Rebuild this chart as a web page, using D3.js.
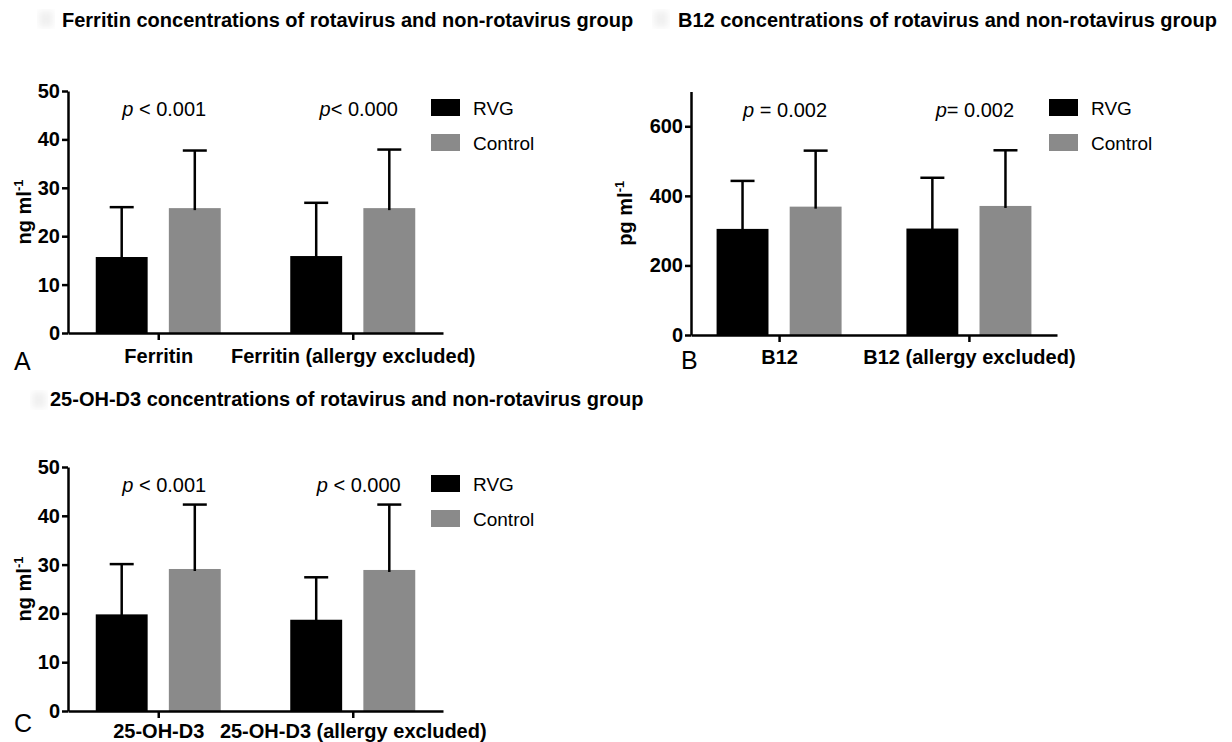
<!DOCTYPE html>
<html lang="en">
<head>
<meta charset="UTF-8">
<title>Ferritin, B12 and 25-OH-D3 concentrations</title>
<style>
  body { margin: 0; background: #fff; }
  svg { display: block; font-family: "Liberation Sans", Arial, sans-serif; }
  .axis path, .axis line { stroke: #000; stroke-width: 2.5; }
  .axis text { font-size: 20px; font-weight: bold; fill: #000; font-family: "Liberation Sans", Arial, sans-serif; }
  .xaxis text { font-size: 20px; }
  .title { font-size: 20px; font-weight: bold; }
  .letter { font-size: 25px; }
  .pval { font-size: 20px; }
  .legend text { font-size: 19px; }
  .ylab { font-size: 20px; font-weight: bold; }
  .err { stroke: #000; stroke-width: 2.5; }
</style>
</head>
<body>
<div id="chart"></div>
<script src="https://d3js.org/d3.v7.min.js"></script>
<script>
// data
const groups = ["RVG", "Control"];
const groupColors = ["#000000", "#8a8a8a"];

const ferritinCats = ["Ferritin", "Ferritin (allergy excluded)"];
const ferritinRVG = [15.7, 15.9];
const ferritinRVGSd = [10.3, 11.0];
const ferritinControl = [25.8, 25.8];
const ferritinControlSd = [11.9, 12.1];
const ferritinP = [" < 0.001", "< 0.000"];
const ferritinTicks = [0, 10, 20, 30, 40, 50];

const b12Cats = ["B12", "B12 (allergy excluded)"];
const b12RVG = [305, 306];
const b12RVGSd = [138, 146];
const b12Control = [369, 371];
const b12ControlSd = [161, 160];
const b12P = [" = 0.002", "= 0.002"];
const b12Ticks = [0, 200, 400, 600];

const d3Cats = ["25-OH-D3", "25-OH-D3 (allergy excluded)"];
const d3RVG = [19.8, 18.7];
const d3RVGSd = [10.3, 8.7];
const d3Control = [29.1, 28.9];
const d3ControlSd = [13.2, 13.4];
const d3P = [" < 0.001", " < 0.000"];
const d3Ticks = [0, 10, 20, 30, 40, 50];

const svg = d3.select("#chart").append("svg").attr("width", 1232).attr("height", 742);
svg.append("rect").attr("width", 1232).attr("height", 742).attr("fill", "#fff");

const defs = svg.append("defs");
defs.append("filter").attr("id", "blur").append("feGaussianBlur").attr("stdDeviation", 3);

const panels = [
  { title: "Ferritin concentrations of rotavirus and non-rotavirus group", letter: "A", yLabel: "ng ml",
    cats: ferritinCats, rvg: ferritinRVG, rvgSd: ferritinRVGSd, ctrl: ferritinControl, ctrlSd: ferritinControlSd,
    p: ferritinP, ticks: ferritinTicks, yMax: 50,
    x0: 68, x1: 443, yTop: 91, yBottom: 333, titleX: 62, titleY: 27, blotX: 39, blotY: 11,
    letterX: 14, letterY: 370, ylabX: 31, legendX: 431, legendY: 99, pY: 116, catPad: 9 },
  { title: "B12 concentrations of rotavirus and non-rotavirus group", letter: "B", yLabel: "pg ml",
    cats: b12Cats, rvg: b12RVG, rvgSd: b12RVGSd, ctrl: b12Control, ctrlSd: b12ControlSd,
    p: b12P, ticks: b12Ticks, yMax: 700,
    x0: 691, x1: 1057, yTop: 91.5, yBottom: 335, titleX: 678, titleY: 27, blotX: 654, blotY: 11,
    letterX: 681, letterY: 369, ylabX: 632, legendX: 1049, legendY: 99, pY: 117, catPad: 8 },
  { title: "25-OH-D3 concentrations of rotavirus and non-rotavirus group", letter: "C", yLabel: "ng ml",
    cats: d3Cats, rvg: d3RVG, rvgSd: d3RVGSd, ctrl: d3Control, ctrlSd: d3ControlSd,
    p: d3P, ticks: d3Ticks, yMax: 50,
    x0: 68, x1: 443, yTop: 467, yBottom: 711, titleX: 50, titleY: 406, blotX: 32, blotY: 392,
    letterX: 14, letterY: 732, ylabX: 31, legendX: 431, legendY: 475, pY: 492, catPad: 6 }
];

panels.forEach(drawPanel);

function drawPanel(cfg) {
  const g = svg.append("g");

  // faint smudge in front of the title
  g.append("rect").attr("x", cfg.blotX).attr("y", cfg.blotY).attr("width", 14).attr("height", 16)
    .attr("fill", "#f0f0f0").attr("filter", "url(#blur)");

  g.append("text").attr("class", "title").attr("x", cfg.titleX).attr("y", cfg.titleY).text(cfg.title);
  g.append("text").attr("class", "letter").attr("x", cfg.letterX).attr("y", cfg.letterY).text(cfg.letter);

  const y = d3.scaleLinear().domain([0, cfg.yMax]).range([cfg.yBottom, cfg.yTop]);
  const x = d3.scalePoint().domain(cfg.cats).range([cfg.x0, cfg.x1]).padding(0.464);
  const xg = d3.scaleBand().domain(groups).range([-62.5, 62.5]).paddingInner(0.29);
  const color = d3.scaleOrdinal().domain(groups).range(groupColors);

  const rows = cfg.cats.flatMap((c, i) => [
    { cat: c, group: "RVG", mean: cfg.rvg[i], sd: cfg.rvgSd[i] },
    { cat: c, group: "Control", mean: cfg.ctrl[i], sd: cfg.ctrlSd[i] }
  ]);

  g.selectAll(".bar").data(rows).enter().append("rect")
    .attr("class", "bar")
    .attr("x", d => x(d.cat) + xg(d.group))
    .attr("width", xg.bandwidth())
    .attr("y", d => y(d.mean))
    .attr("height", d => y(0) - y(d.mean))
    .attr("fill", d => color(d.group));

  const cx = d => x(d.cat) + xg(d.group) + xg.bandwidth() / 2;
  g.selectAll(".errv").data(rows).enter().append("line")
    .attr("class", "err")
    .attr("x1", cx).attr("x2", cx)
    .attr("y1", d => y(d.mean) + 2).attr("y2", d => y(d.mean + d.sd));
  g.selectAll(".errc").data(rows).enter().append("line")
    .attr("class", "err")
    .attr("x1", d => cx(d) - 12).attr("x2", d => cx(d) + 12)
    .attr("y1", d => y(d.mean + d.sd)).attr("y2", d => y(d.mean + d.sd));

  // axes
  g.append("g").attr("class", "axis").attr("transform", `translate(${cfg.x0},0)`)
    .call(d3.axisLeft(y).tickValues(cfg.ticks).tickSize(6).tickSizeOuter(0).tickPadding(2));
  g.append("g").attr("class", "axis xaxis").attr("transform", `translate(0,${cfg.yBottom})`)
    .call(d3.axisBottom(x).tickSize(7).tickSizeOuter(0).tickPadding(cfg.catPad));

  // y label
  const yl = g.append("text").attr("class", "ylab")
    .attr("transform", `translate(${cfg.ylabX},${(cfg.yTop + cfg.yBottom) / 2}) rotate(-90)`)
    .attr("text-anchor", "middle");
  yl.append("tspan").text(cfg.yLabel);
  yl.append("tspan").attr("dy", -8).attr("font-size", 13).text("-1");

  // p values
  cfg.cats.forEach((c, i) => {
    const t = g.append("text").attr("class", "pval")
      .attr("x", x(c) + 6).attr("y", cfg.pY).attr("text-anchor", "middle");
    t.append("tspan").attr("font-style", "italic").text("p");
    t.append("tspan").text(cfg.p[i]);
  });

  // legend
  const lg = g.append("g").attr("class", "legend");
  groups.forEach((name, i) => {
    const ly = cfg.legendY + i * 35;
    lg.append("rect").attr("x", cfg.legendX).attr("y", ly).attr("width", 29).attr("height", 17)
      .attr("fill", color(name));
    lg.append("text").attr("x", cfg.legendX + 42).attr("y", ly + 16).text(name);
  });
}
</script>
</body>
</html>
